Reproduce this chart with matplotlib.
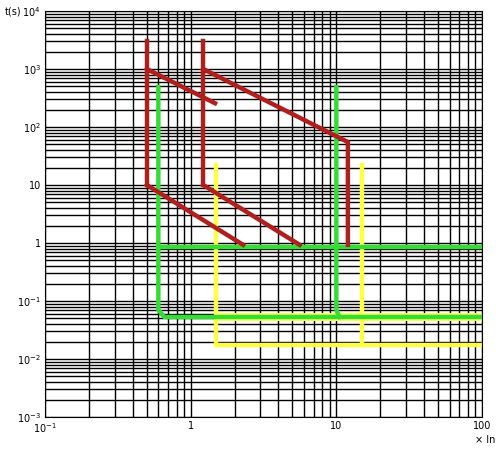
import matplotlib
matplotlib.use("Agg")
import matplotlib.pyplot as plt
from matplotlib.ticker import LogLocator, FixedLocator

# curves (x in multiples of In, t in s)
red1_x = [0.5, 0.5]; red1_y = [3000, 10]
red1_top_x = [0.5, 1.47]; red1_top_y = [1000, 257]
red1_bot_x = [0.5, 2.29]; red1_bot_y = [10, 0.93]
red2_x = [1.22, 1.22]; red2_y = [3000, 10]
red2_top_x = [1.22, 12, 12]; red2_top_y = [1000, 55, 0.93]
red2_bot_x = [1.22, 5.6]; red2_bot_y = [10, 0.93]
green1_x = [0.6, 0.6, 0.66, 100]; green1_y = [490, 0.07, 0.053, 0.053]
green_mid_x = [0.6, 100]; green_mid_y = [0.85, 0.85]
green2_x = [10, 10, 10.5]; green2_y = [490, 0.07, 0.053]
yellow_x = [1.5, 1.5, 100]; yellow_y = [22, 0.0174, 0.0174]
yellow_h_x = [1.5, 100]; yellow_h_y = [0.053, 0.053]
yellow2_x = [15, 15]; yellow2_y = [22, 0.0174]

fig = plt.figure(figsize=(5.03, 4.54), dpi=100)
ax = fig.add_axes([45/503, 1-417/454, 437/503, 406/454])
ax.set_xscale('log'); ax.set_yscale('log')
ax.set_xlim(0.1, 100); ax.set_ylim(1e-3, 1e4)
ax.grid(True, which='both', color='black', linewidth=1)
ax.set_axisbelow(True)

R, G, Y = '#b01e1e', '#33dd33', '#ffff44'
lw = 3.2
ax.plot(yellow_h_x, yellow_h_y, color=Y, lw=lw+2.5, solid_capstyle='butt')
ax.plot(yellow_x, yellow_y, color=Y, lw=lw, solid_joinstyle='round')
ax.plot(yellow2_x, yellow2_y, color=Y, lw=lw)
ax.plot(green1_x, green1_y, color=G, lw=lw)
ax.plot(green_mid_x, green_mid_y, color=G, lw=lw)
ax.plot(green2_x, green2_y, color=G, lw=lw)
for xs, ys in [(red1_x, red1_y), (red1_top_x, red1_top_y), (red1_bot_x, red1_bot_y),
               (red2_x, red2_y), (red2_top_x, red2_top_y), (red2_bot_x, red2_bot_y)]:
    ax.plot(xs, ys, color=R, lw=lw)

ax.xaxis.set_major_locator(FixedLocator([0.1, 1, 10, 100]))
ax.set_xticklabels(['10$^{-1}$', '1', '10', '100'])
ax.yaxis.set_major_locator(FixedLocator([1e-3, 1e-2, 1e-1, 1, 10, 1e2, 1e3, 1e4]))
ax.set_yticklabels(['10$^{-3}$', '10$^{-2}$', '10$^{-1}$', '1', '10', '10$^{2}$', '10$^{3}$', '10$^{4}$'])
ax.tick_params(which='both', length=0, labelsize=7, pad=3)
for s in ax.spines.values():
    s.set_color('black')
fig.text(5/503, 1-11/454, 't(s)', fontsize=7, va='center')
fig.text(475/503, 1-440/454, '× In', fontsize=7, va='center')
fig.savefig('out.png', dpi=100)
